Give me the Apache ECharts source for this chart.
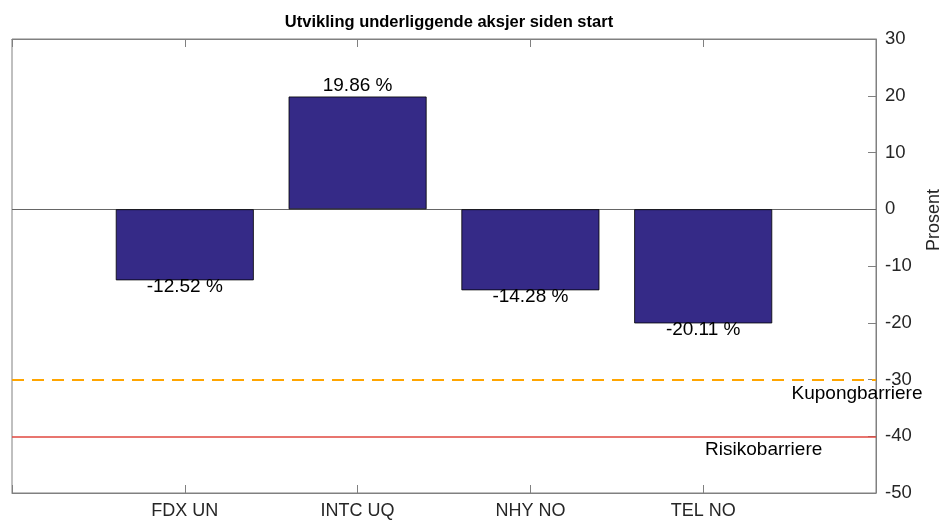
<!DOCTYPE html>
<html>
<head>
<meta charset="utf-8">
<script src="https://cdn.jsdelivr.net/npm/echarts@6/dist/echarts.min.js"></script>
<style>
  html, body { margin: 0; padding: 0; background: #fff; }
  #chart { width: 944px; height: 527px; }
</style>
</head>
<body>
<div id="chart"></div>
<script>
var categories = ['FDX UN', 'INTC UQ', 'NHY NO', 'TEL NO'];
var values = [-12.52, 19.86, -14.28, -20.11];
var barrierNames = ['Kupongbarriere', 'Risikobarriere'];
var barrierLevels = [-30, -40];
var yTicks = { min: -50, max: 30, step: 10 };

var font = 'Liberation Sans, Arial, sans-serif';
var axisGray = '#808080';

// bars sit at x = 1..n on a 0..n+1 axis, like the original
var barData = values.map(function (v, i) {
    return {
        value: [i + 1, v],
        label: v >= 0 ? { position: 'top', distance: 1 } : { position: 'bottom', distance: -3 }
    };
});

function catLabel(v) {
    var i = Math.round(v) - 1;
    return (i >= 0 && i < categories.length) ? categories[i] : '';
}

var xCommon = {
    type: 'value',
    min: 0,
    max: categories.length + 1,
    interval: 1,
    axisLine: { show: true, onZero: false, lineStyle: { color: axisGray, width: 1 } },
    axisTick: { show: true, inside: true, length: 8, lineStyle: { color: axisGray } },
    splitLine: { show: false }
};

var option = {
    backgroundColor: '#fff',
    animation: false,
    title: {
        text: 'Utvikling underliggende aksjer siden start',
        left: 444,
        top: 9,
        textAlign: 'center',
        textStyle: { fontFamily: font, fontSize: 16.5, fontWeight: 'bold', color: '#000' }
    },
    grid: {
        left: 12, right: 68, top: 39, bottom: 34,
        outerBoundsMode: 'none',
        containLabel: false,
        show: true, borderColor: axisGray, borderWidth: 1, backgroundColor: 'transparent'
    },
    xAxis: [
        Object.assign({}, xCommon, {
            position: 'bottom',
            axisLabel: {
                formatter: catLabel, margin: 9,
                fontFamily: font, fontSize: 18, color: '#262626'
            }
        }),
        Object.assign({}, xCommon, {
            position: 'top',
            axisLabel: { show: false }
        })
    ],
    yAxis: {
        type: 'value',
        position: 'right',
        min: yTicks.min,
        max: yTicks.max,
        interval: yTicks.step,
        name: 'Prosent',
        nameLocation: 'middle',
        nameRotate: 90,
        nameGap: 49,
        nameTextStyle: { fontFamily: font, fontSize: 18, color: '#262626', padding: [0, 0, 0, 92] },
        axisLine: { show: true, onZero: false, lineStyle: { color: axisGray } },
        axisTick: { show: true, inside: true, length: 8, lineStyle: { color: axisGray } },
        axisLabel: { margin: 9, fontFamily: font, fontSize: 18.5, color: '#262626' },
        splitLine: { show: false }
    },
    series: [{
        type: 'bar',
        data: barData,
        barWidth: 138,
        itemStyle: { color: '#352A87', borderColor: '#000', borderWidth: 0.8 },
        label: {
            show: true,
            fontFamily: font,
            fontSize: 19,
            color: '#000',
            formatter: function (p) { return p.value[1].toFixed(2) + ' %'; }
        },
        markLine: {
            silent: true,
            symbol: 'none',
            z: 1,
            label: { show: false },
            data: [
                { yAxis: 0, lineStyle: { color: '#666', width: 1, type: 'solid' } },
                { yAxis: barrierLevels[0], lineStyle: { color: '#FFA500', width: 2, type: [12, 8] } },
                { yAxis: barrierLevels[1], lineStyle: { color: '#E0473F', width: 1.5, type: 'solid' } }
            ]
        },
        markPoint: {
            silent: true,
            symbol: 'circle',
            symbolSize: 0,
            label: { show: true, position: 'inside', fontFamily: font, fontSize: 19, color: '#000' },
            data: [
                { coord: [4.89, barrierLevels[0] - 2.5], value: barrierNames[0],
                  label: { formatter: barrierNames[0] } },
                { coord: [4.35, barrierLevels[1] - 2.3], value: barrierNames[1],
                  label: { formatter: barrierNames[1] } }
            ]
        }
    }]
};

var myChart = echarts.init(document.getElementById('chart'), null, { renderer: 'canvas' });
myChart.setOption(option);
</script>
</body>
</html>
